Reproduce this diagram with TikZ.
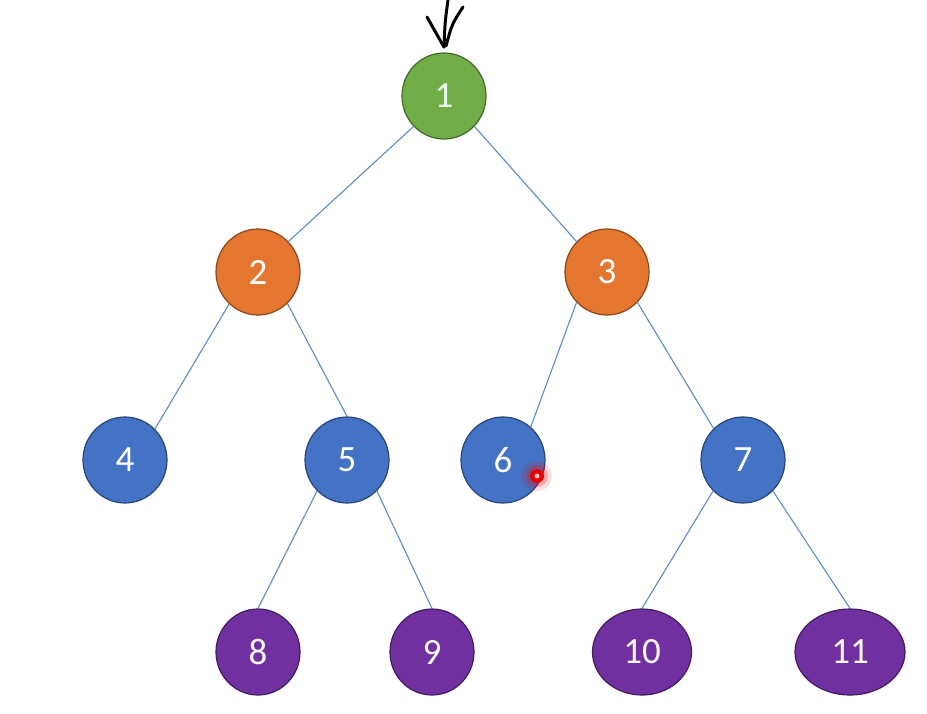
\documentclass[tikz,border=0pt]{standalone}
\usepackage{fontspec}
\setmainfont{Carlito}
\usetikzlibrary{shapes.geometric}
\definecolor{cgreen}{HTML}{70AD47}
\definecolor{corange}{HTML}{E5762F}
\definecolor{cblue}{HTML}{4472C4}
\definecolor{cpurple}{HTML}{7030A0}
\definecolor{cedge}{HTML}{5B8DC0}
\tikzset{
  tnode/.style={ellipse, minimum width=84pt, minimum height=86pt, inner sep=0pt, line width=1.2pt,
     text=white, font=\fontsize{37}{40}\selectfont},
  gnode/.style={tnode, fill=cgreen, draw=cgreen!60!black, text=green!8!white},
  onode/.style={tnode, fill=corange, draw=corange!60!black},
  bnode/.style={tnode, fill=cblue, draw=cblue!60!black},
  pnode/.style={tnode, fill=cpurple, draw=cpurple!60!black, text=pink!15!white},
  edge/.style={draw=cedge, line width=1.1pt},
  pen/.style={black, line width=3pt, line cap=round, line join=round}
}
\begin{document}
\begin{tikzpicture}[x=1pt,y=-1pt]
\fill[white] (0,0) rectangle (927,713);
\useasboundingbox (0,0) rectangle (927,713);
\node[gnode] (n1) at (444,96) {1};
\node[onode] (n2) at (258,272) {2};
\node[onode] (n3) at (607,272) {3};
\node[bnode] (n4) at (125,460) {4};
\node[bnode] (n5) at (347,460) {5};
\node[bnode] (n6) at (503,460) {6};
\node[bnode] (n7) at (743,460) {7};
\node[pnode] (n8) at (258,652) {8};
\node[pnode] (n9) at (432,652) {9};
\node[pnode, minimum width=99pt] (n10) at (642,652) {10};
\node[pnode, minimum width=110pt] (n11) at (850,652) {11};
\draw[edge] (n1.-135) -- (n2.45);
\draw[edge] (n1.-45) -- (n3.135);
\draw[edge] (n2.-132) -- (n4.46);
\draw[edge] (n2.-47) -- (n5.90);
\draw[edge] (n3.-135) -- (n6.50);
\draw[edge] (n3.-45) -- (n7.133);
\draw[edge] (n5.-134) -- (n8.90);
\draw[edge] (n5.-46) -- (n9.90);
\draw[edge] (n7.-134) -- (n10.90);
\draw[edge] (n7.-46) -- (n11.90);
% hand-drawn arrow
\coordinate (tip) at (444,47);
\draw[pen] (448,0) .. controls (445,22) .. (tip);
\draw[pen] (427,17) .. controls (436,33) .. (tip);
\draw[pen] (463,7) .. controls (452,24) .. (446,46);
% red pointer dot
\fill[red, opacity=0.12] (537,476) circle (15);
\fill[red, opacity=0.25] (537,476) circle (11);
\fill[red!90!black] (537,476) circle (7);
\fill[white!75!red] (537,476) circle (2.5);
\end{tikzpicture}
\end{document}
